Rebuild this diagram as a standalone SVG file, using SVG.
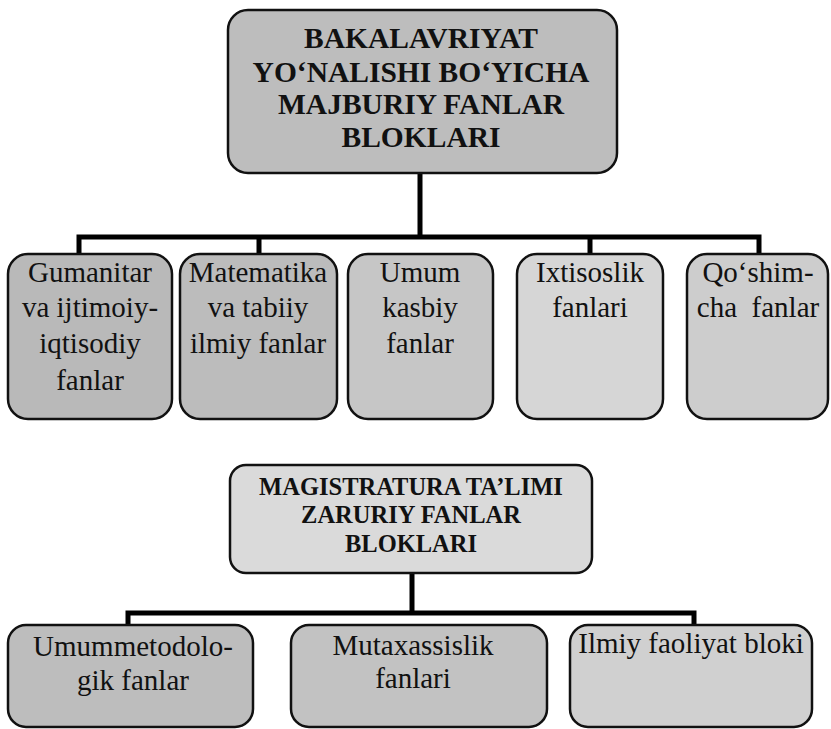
<svg xmlns="http://www.w3.org/2000/svg" width="831" height="729" viewBox="0 0 831 729">
<style>
.box{stroke:#111;stroke-width:2.5}
.conn{stroke:#000;stroke-width:5;fill:none;stroke-linecap:square}
.hd{font-family:"Liberation Serif","Times New Roman",serif;font-weight:bold;fill:#111;text-anchor:middle}
.t{font-family:"Liberation Serif","Times New Roman",serif;font-size:29px;fill:#111;text-anchor:middle}
</style>
<rect width="831" height="729" fill="#fff"/>
<g id="connectors">
<path class="conn" d="M420,173 V237 M79,254 V237 H759 V254 M259,237 V254 M590,237 V254"/>
<path class="conn" d="M412,573 V613 M128,625 V613 H694 V625"/>
</g>
<g id="bakalavriyat">
<rect class="box" x="228" y="10" width="389" height="163" rx="20" fill="#bdbdbd"/>
<text class="hd" font-size="29.5" x="421" y="48">BAKALAVRIYAT</text>
<text class="hd" font-size="29.5" x="421" y="82">YO‘NALISHI BO‘YICHA</text>
<text class="hd" font-size="29.5" x="421" y="114">MAJBURIY FANLAR</text>
<text class="hd" font-size="29.5" x="421" y="147">BLOKLARI</text>
</g>
<g id="gumanitar">
<rect class="box" x="8" y="254" width="164" height="165" rx="20" fill="#b9b9b9"/>
<text class="t" x="90" y="282">Gumanitar</text>
<text class="t" x="90" y="317">va ijtimoiy-</text>
<text class="t" x="90" y="353">iqtisodiy</text>
<text class="t" x="90" y="390">fanlar</text>
</g>
<g id="matematika">
<rect class="box" x="180" y="254" width="157" height="165" rx="20" fill="#bcbcbc"/>
<text class="t" x="258" y="282">Matematika</text>
<text class="t" x="258" y="317">va tabiiy</text>
<text class="t" x="258" y="353">ilmiy fanlar</text>
</g>
<g id="umum">
<rect class="box" x="348" y="254" width="145" height="165" rx="20" fill="#c6c6c6"/>
<text class="t" x="420" y="282">Umum</text>
<text class="t" x="420" y="317">kasbiy</text>
<text class="t" x="420" y="353">fanlar</text>
</g>
<g id="ixtisoslik">
<rect class="box" x="517" y="254" width="146" height="165" rx="20" fill="#d6d6d6"/>
<text class="t" x="590" y="282">Ixtisoslik</text>
<text class="t" x="590" y="317">fanlari</text>
</g>
<g id="qoshimcha">
<rect class="box" x="687" y="254" width="141" height="165" rx="20" fill="#cdcdcd"/>
<text class="t" x="758" y="282">Qo‘shim-</text>
<text class="t" x="758" y="317" xml:space="preserve">cha  fanlar</text>
</g>
<g id="magistratura">
<rect class="box" x="230" y="465" width="362" height="108" rx="16" fill="#dadada"/>
<text class="hd" font-size="24.5" x="411" y="495">MAGISTRATURA TA’LIMI</text>
<text class="hd" font-size="24.5" x="411" y="523">ZARURIY FANLAR</text>
<text class="hd" font-size="24.5" x="411" y="552">BLOKLARI</text>
</g>
<g id="umummetodologik">
<rect class="box" x="8" y="625" width="245" height="102" rx="18" fill="#bdbdbd"/>
<text class="t" x="133" y="656">Umummetodolo-</text>
<text class="t" x="133" y="690">gik fanlar</text>
</g>
<g id="mutaxassislik">
<rect class="box" x="291" y="625" width="256" height="102" rx="18" fill="#c2c2c2"/>
<text class="t" x="413" y="655">Mutaxassislik</text>
<text class="t" x="413" y="688">fanlari</text>
</g>
<g id="ilmiy">
<rect class="box" x="570" y="625" width="242" height="102" rx="18" fill="#d0d0d0"/>
<text class="t" x="691" y="653">Ilmiy faoliyat bloki</text>
</g>
</svg>
